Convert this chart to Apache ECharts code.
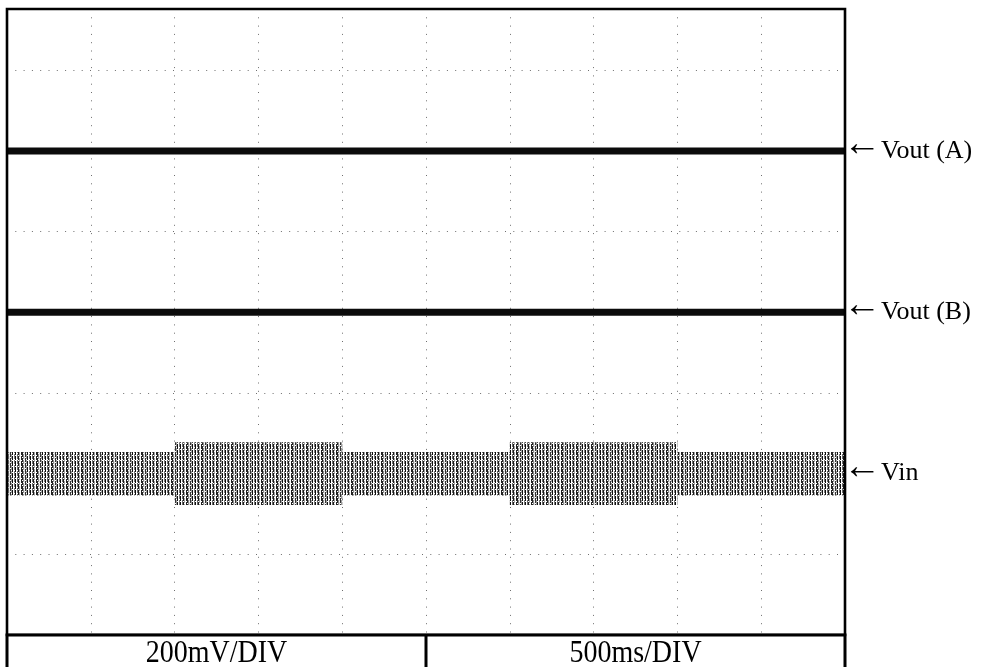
<!DOCTYPE html>
<html>
<head>
<meta charset="utf-8">
<script src="https://cdn.jsdelivr.net/npm/echarts@6/dist/echarts.min.js"></script>
<style>
  html, body { margin: 0; padding: 0; background: #fff; }
  #chart { width: 981px; height: 667px; }
</style>
</head>
<body>
<div id="chart"></div>
<script>
// Scope capture: three channels on one screen, vertical units are screen divisions.
const sweepStart = 0;          // s
const sweepEnd = 5;            // s (10 div x 500 ms)
const timeDiv = 0.5;           // s per division
const screenTopDiv = 7.76;     // visible vertical extent, divisions

const traceNames = ['Vout (A)', 'Vout (B)', 'Vin'];
const traceLevelDiv = [6, 4, 2];

// Vin ripple envelope per load segment (half peak-to-peak, divisions)
const vinSegStart = [0, 1, 2, 3, 4];
const vinSegEnd = [1, 2, 3, 4, 5];
const vinRippleDiv = [0.27, 0.39, 0.27, 0.39, 0.27];

const scaleLabels = ['200mV/DIV', '500ms/DIV'];

const SERIF = "'Liberation Serif', 'Times New Roman', serif";

// Stripe texture for the dense ripple trace
function makeRippleTexture() {
  const c = document.createElement('canvas');
  const cols = ['#0c0c0c', '#fff', '#6a6a6a', '#1a1a1a', '#a0a0a0', '#fff', '#222', '#222', '#8c8c8c', '#e0e0e0', '#333', '#9a9a9a', '#111', '#fff', '#777'];
  c.width = cols.length;
  c.height = 23;
  const g = c.getContext('2d');
  g.fillStyle = '#fff';
  g.fillRect(0, 0, c.width, c.height);
  cols.forEach((col, i) => {
    g.fillStyle = col;
    for (let y = 0; y < c.height; y++) {
      // small gaps give the dotted look of sampled points
      if ((y + i * 4) % 6 === 0) continue;
      g.fillRect(i, y, 1, 1);
    }
  });
  return c;
}
const rippleFill = { image: makeRippleTexture(), repeat: 'repeat' };

const vinBand = vinSegStart.map((t0, i) => [
  t0, vinSegEnd[i],
  traceLevelDiv[2] - vinRippleDiv[i],
  traceLevelDiv[2] + vinRippleDiv[i]
]);

function channelLabel(name) {
  return {
    show: true,
    formatter: '{a|\u2190}{b|' + name + '}',
    color: '#000',
    distance: -2,
    align: 'left',
    verticalAlign: 'middle',
    rich: {
      a: { fontFamily: SERIF, fontSize: 38, color: '#000', padding: [0, 0, 12, 0] },
      b: { fontFamily: SERIF, fontSize: 26, color: '#000' }
    }
  };
}

const chart = echarts.init(document.getElementById('chart'), null, { renderer: 'canvas' });

const LEFT = 7, TOP = 9, RIGHT_PX = 845, BOTTOM_PX = 635;

chart.setOption({
  animation: false,
  backgroundColor: '#fff',
  grid: {
    left: LEFT, top: TOP, right: 981 - RIGHT_PX, bottom: 667 - BOTTOM_PX,
    show: false
  },
  xAxis: {
    type: 'value', min: sweepStart, max: sweepEnd, interval: timeDiv,
    axisLine: { show: false }, axisTick: { show: false }, axisLabel: { show: false },
    splitLine: { show: true, lineStyle: { color: '#6e6e6e', width: 1, type: [1, 7.3] } }
  },
  yAxis: {
    type: 'value', min: 0, max: screenTopDiv, interval: 1,
    axisLine: { show: false }, axisTick: { show: false }, axisLabel: { show: false },
    splitLine: { show: true, lineStyle: { color: '#6e6e6e', width: 1, type: [1, 7.3] } }
  },
  series: [
    {
      type: 'custom',
      name: traceNames[2] + ' ripple',
      data: vinBand,
      encode: { x: [0, 1], y: [2, 3] },
      renderItem: function (params, api) {
        const p0 = api.coord([api.value(0), api.value(3)]);
        const p1 = api.coord([api.value(1), api.value(2)]);
        return {
          type: 'rect',
          shape: { x: p0[0], y: p0[1], width: p1[0] - p0[0], height: p1[1] - p0[1] },
          style: { fill: rippleFill }
        };
      },
      z: 3
    },
    {
      type: 'line',
      name: traceNames[2],
      data: [[sweepStart, traceLevelDiv[2]], [sweepEnd, traceLevelDiv[2]]],
      symbol: 'none',
      lineStyle: { opacity: 0 },
      endLabel: channelLabel(traceNames[2]),
      z: 4
    },
    {
      type: 'line',
      name: traceNames[1],
      data: [[sweepStart, traceLevelDiv[1]], [sweepEnd, traceLevelDiv[1]]],
      symbol: 'none',
      lineStyle: { color: '#0b0b0b', width: 7 },
      endLabel: channelLabel(traceNames[1]),
      z: 4
    },
    {
      type: 'line',
      name: traceNames[0],
      data: [[sweepStart, traceLevelDiv[0]], [sweepEnd, traceLevelDiv[0]]],
      symbol: 'none',
      lineStyle: { color: '#0b0b0b', width: 7 },
      endLabel: channelLabel(traceNames[0]),
      z: 4
    }
  ],
  graphic: [
    // screen frame
    {
      type: 'rect', z: 9,
      shape: { x: LEFT, y: TOP, width: RIGHT_PX - LEFT, height: BOTTOM_PX - TOP },
      style: { fill: 'none', stroke: '#000', lineWidth: 2.6 }
    },
    // scale footer box
    {
      type: 'rect', z: 10,
      shape: { x: LEFT, y: BOTTOM_PX, width: RIGHT_PX - LEFT, height: 40 },
      style: { fill: '#fff', stroke: '#000', lineWidth: 3 }
    },
    {
      type: 'line', z: 11,
      shape: { x1: 426, y1: BOTTOM_PX, x2: 426, y2: 670 },
      style: { stroke: '#000', lineWidth: 3 }
    },
    {
      type: 'text', z: 12,
      x: (LEFT + 426) / 2, y: 653.5, scaleY: 1.12, originX: 0, originY: 0,
      style: { text: scaleLabels[0], font: '28px ' + SERIF, fill: '#000', textAlign: 'center', textVerticalAlign: 'middle' }
    },
    {
      type: 'text', z: 12,
      x: (426 + RIGHT_PX) / 2, y: 653.5, scaleY: 1.12, originX: 0, originY: 0,
      style: { text: scaleLabels[1], font: '28px ' + SERIF, fill: '#000', textAlign: 'center', textVerticalAlign: 'middle' }
    }
  ]
});
</script>
</body>
</html>
